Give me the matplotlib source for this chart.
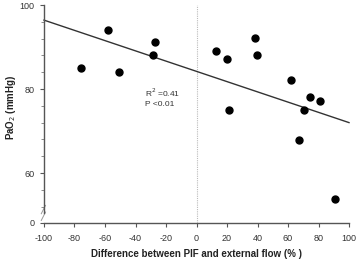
import numpy as np
import matplotlib.pyplot as plt

# data
diff_flow = [-75.7, -57.8, -50.6, -28.7, -27.2, 13.0, 20.2, 38.6, 39.5,
             21.3, 62.2, 74.2, 81.0, 70.5, 67.4, 91.0]
pao2 = [85.0, 94.1, 84.0, 88.1, 91.1, 89.1, 87.1, 92.1, 88.1,
        75.0, 82.1, 78.0, 77.1, 75.0, 67.9, 53.8]
fit_x = [-100, 100]
fit_y = [96.4, 72.0]
x_ticks = [-100, -80, -60, -40, -20, 0, 20, 40, 60, 80, 100]

plt.rcParams['font.family'] = ['Liberation Sans', 'DejaVu Sans']
plt.rcParams['axes.unicode_minus'] = False

fig = plt.figure(figsize=(3.58, 2.62), dpi=100)
ax = fig.add_axes([0.1229, 0.1489, 0.852, 0.832])

Y_BOT = 48.1
ax.set_xlim(-100, 100)
ax.set_ylim(Y_BOT, 100)

ax.axvline(0, color='#bbbbbb', lw=0.8, ls=(0, (1, 1)), zorder=1)
ax.plot(fit_x, fit_y, color='#333333', lw=1.0, zorder=2, clip_on=False)
ax.plot(diff_flow, pao2, 'o', color='black', ms=5, zorder=3, clip_on=False)

ax.spines['top'].set_visible(False)
ax.spines['right'].set_visible(False)
for s in ['left', 'bottom']:
    ax.spines[s].set_color('#555555')
    ax.spines[s].set_linewidth(1.0)
ax.spines['left'].set_bounds(50.5, 100)

ax.set_xticks(x_ticks)
ax.set_yticks([Y_BOT, 60, 80, 100])
ax.set_yticklabels(['0', '60', '80', '100'])
ax.set_yticks(np.arange(52, 100, 4), minor=True)
ax.tick_params(axis='both', labelsize=6.5, colors='#555555', labelcolor='#333333',
               length=3, width=0.8)
ax.tick_params(axis='x', pad=5)
ax.tick_params(axis='y', pad=4)
ax.tick_params(axis='y', which='minor', length=2, width=0.6, colors='#777777')

# axis break marks
for dy in [0, 1.6]:
    ax.plot([-101.8, -99.0], [Y_BOT + 0.6 + dy, Y_BOT + 2.6 + dy], color='#999999',
            lw=0.7, clip_on=False)

ax.text(-34, 79, 'R$^2$ =0.41', fontsize=6, color='#333333', va='center')
ax.text(-34, 76.2, 'P <0.01', fontsize=6, color='#333333', va='center')

ax.set_xlabel('Difference between PIF and external flow (% )', fontsize=7,
              fontweight='bold', color='#222222', labelpad=4)
ax.set_ylabel('PaO$_2$ (mmHg)', fontsize=7, fontweight='bold', color='#222222')
ax.yaxis.set_label_coords(-0.085, 0.53)

fig.savefig('out.png', dpi=100)
